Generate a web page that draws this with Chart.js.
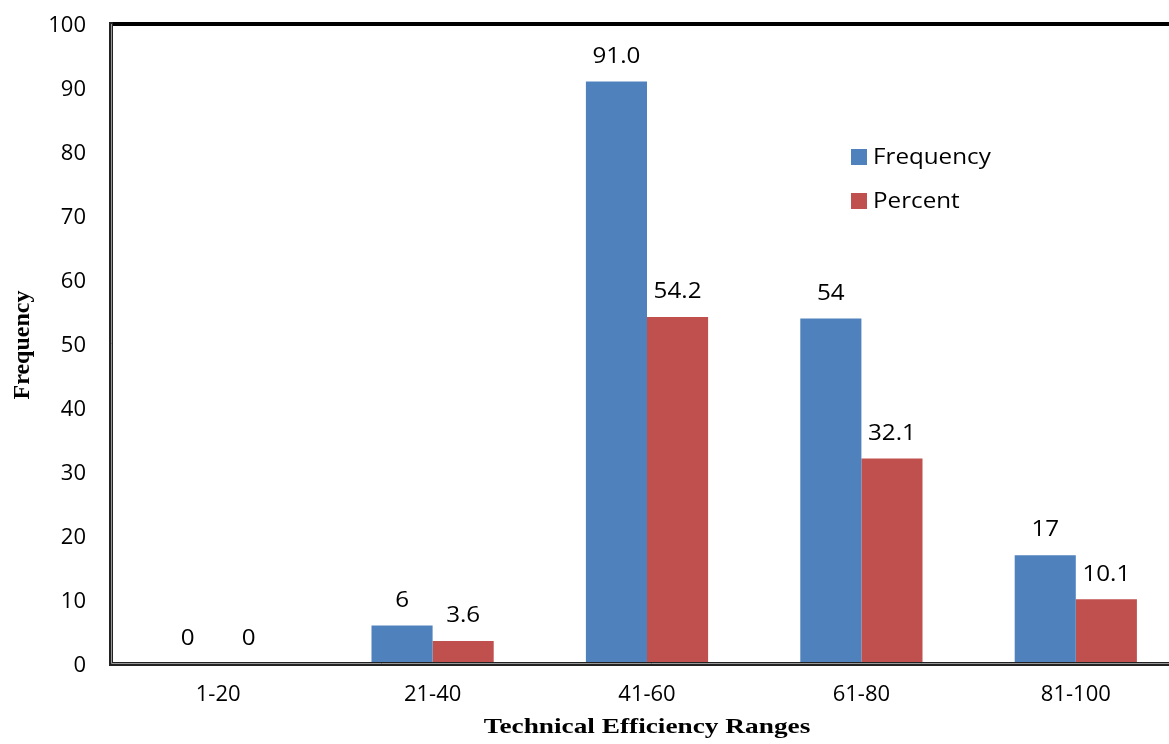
<!DOCTYPE html>
<html><head><meta charset="utf-8">
<script src="https://cdn.jsdelivr.net/npm/chart.js@4"></script>
<style>html,body{margin:0;padding:0;overflow:hidden;background:#fff}#wrap{width:1190px;height:744px}</style>
</head><body><div id="wrap"><canvas id="c" width="1190" height="744"></canvas></div>
<script>
const categories = ["1-20", "21-40", "41-60", "61-80", "81-100"];
const frequency = [0, 6, 91, 54, 17];
const percent = [0, 3.6, 54.2, 32.1, 10.1];
const frequencyLabels = ["0", "6", "91.0", "54", "17"];
const percentLabels = ["0", "3.6", "54.2", "32.1", "10.1"];
const seriesNames = ["Frequency", "Percent"];
const yTicks = [0,10,20,30,40,50,60,70,80,90,100];
const xTitle = "Technical Efficiency Ranges";
const yTitle = "Frequency";

const BLUE = "#4F81BD", RED = "#C0504D";
const FONT = "'Open Sans', sans-serif";

function stretchText(ctx, text, x, y, sx) {
  ctx.save();
  ctx.translate(x, y);
  ctx.scale(sx, 1);
  ctx.fillText(text, 0, 0);
  ctx.restore();
}

const decor = {
  id: 'decor',
  afterDatasetsDraw(chart) {
    const ctx = chart.ctx;
    const labels = [frequencyLabels, percentLabels];
    ctx.save();
    ctx.fillStyle = '#000';
    ctx.font = "22px " + FONT;
    ctx.textAlign = 'center';
    ctx.textBaseline = 'middle';
    [0,1].forEach(di => {
      chart.getDatasetMeta(di).data.forEach((bar, i) => {
        stretchText(ctx, labels[di][i], bar.x, bar.y - 25, 1.1);
      });
    });
    ctx.restore();
  },
  afterDraw(chart) {
    const ctx = chart.ctx;
    const a = chart.chartArea;
    ctx.save();
    // frame
    ctx.strokeStyle = '#000';
    ctx.lineWidth = 4;
    ctx.beginPath(); ctx.moveTo(a.left, a.top); ctx.lineTo(a.right + 20, a.top); ctx.stroke();
    ctx.strokeStyle = '#222';
    ctx.beginPath(); ctx.moveTo(a.left, a.top - 2); ctx.lineTo(a.left, a.bottom); ctx.lineTo(a.right + 20, a.bottom); ctx.stroke();
    ctx.lineWidth = 1;
    ctx.strokeStyle = '#999';
    ctx.beginPath(); ctx.moveTo(a.left + 0.5, a.top); ctx.lineTo(a.left + 0.5, a.bottom - 0.5); ctx.lineTo(a.right + 20, a.bottom - 0.5); ctx.stroke();
    // legend
    const colors = [BLUE, RED];
    ctx.font = "22px " + FONT;
    ctx.textAlign = 'left';
    ctx.textBaseline = 'middle';
    seriesNames.forEach((n, i) => {
      const y = 157 + i * 44;
      ctx.fillStyle = colors[i];
      ctx.fillRect(851, y - 8, 16, 16);
      ctx.fillStyle = '#000';
      stretchText(ctx, n, 873, y + 1, 1.1);
    });
    // axis titles
    ctx.font = "bold 21px 'Liberation Serif', serif";
    ctx.textAlign = 'center';
    ctx.textBaseline = 'alphabetic';
    stretchText(ctx, xTitle, (a.left + a.right) / 2, 733, 1.3);
    ctx.font = "bold 24px 'Liberation Serif', serif";
    ctx.translate(29, 345);
    ctx.rotate(-Math.PI / 2);
    ctx.fillText(yTitle, 0, 0);
    ctx.restore();
  }
};

new Chart(document.getElementById('c'), {
  type: 'bar',
  data: {
    labels: categories,
    datasets: [
      { label: seriesNames[0], data: frequency, backgroundColor: BLUE },
      { label: seriesNames[1], data: percent, backgroundColor: RED }
    ]
  },
  options: {
    responsive: false,
    animation: false,
    layout: { padding: { top: 24, right: 7, left: 0, bottom: 0 } },
    plugins: { legend: { display: false }, tooltip: { enabled: false } },
    datasets: { bar: { categoryPercentage: 0.57, barPercentage: 1.0 } },
    scales: {
      x: {
        grid: { display: false, drawTicks: false },
        border: { display: false },
        ticks: { color: '#000', font: { family: FONT, size: 22 }, padding: 18 },
        afterFit(s) { s.height = 80; s.paddingLeft = 0; s.paddingRight = 0; }
      },
      y: {
        min: 0, max: 100,
        afterBuildTicks(s) { s.ticks = yTicks.map(v => ({ value: v })); },
        grid: { display: false, drawTicks: false },
        border: { display: false },
        ticks: { color: '#000', font: { family: FONT, size: 22 }, padding: 25, labelOffset: 2 },
        afterFit(s) { s.width = 111; s.paddingTop = 0; s.paddingBottom = 0; }
      }
    }
  },
  plugins: [decor]
});
</script></body></html>
